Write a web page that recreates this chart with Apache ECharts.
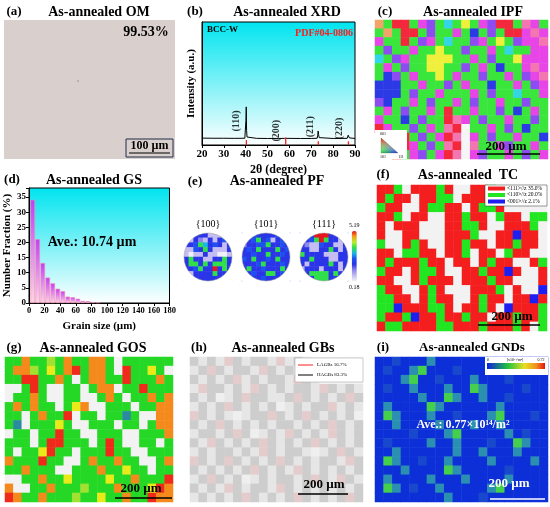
<!DOCTYPE html>
<html><head><meta charset="utf-8">
<script src="https://cdn.jsdelivr.net/npm/echarts@6/dist/echarts.min.js"></script>
<style>html,body{margin:0;padding:0;background:#fff}#c{width:550px;height:507px}</style>
</head><body><div id="c"></div>
<script>
const F = "'Liberation Serif','Times New Roman',serif";
// ---------- (b) XRD ----------
const xrdTheta = [20,25,30,35,39.6,39.9,40.1,40.25,40.4,40.6,40.9,45,50,55,57.9,58.1,58.3,58.5,58.8,65,70,72.7,72.95,73.15,73.35,73.6,74,80,86.4,86.7,86.9,87.1,87.4,88,90];
const xrdIntensity = [5.6,5.5,5.5,5.4,5.5,6.5,20,31,12,6.5,5.6,5.4,5.3,5.3,5.4,6,6.9,6,5.4,5.3,5.3,5.5,8,11.4,8.5,6,5.4,5.3,5.4,6.5,8,7.5,5.8,5.3,5.3];
const pdfTheta = [40.3,58.3,73.2,87.0];
const pdfHeight = [4,6,3,3];
const peakLabels = ['(110)','(200)','(211)','(220)'];
const peakLabelTheta = [35.9,54.2,69.4,82.8];
const peakLabelY = [19.5,11.6,14.9,13.5];
// ---------- (d) GS ----------
const gsSize = [4.7,11.1,17.6,24.0,30.4,36.9,43.3,49.7,56.1,62.6,69.0,75.4,81.9,88.3];
const gsFraction = [34.1,21.1,13.2,8.4,6.5,4.7,3.9,2.1,1.9,1.4,0.7,0.6,0.3,0.2];
// ---------- maps (coarse colour-code grids) ----------
const ipfRows = [
"OGRRGMPGCGYGMPRRGKMG",
"GOGRRGPGGMGBGPGRRMKM",
"MGGRGPMGCGGPMGYGPMMK",
"GPGGMGGYGGPGGMGCGGMM",
"CGPMGGYYYGGMGPGGYMMM",
"GMGPGGYYGGPGMGBGGMKM",
"GBPGMGGYGMGGPGGMGPMK",
"BBBGGMGGPGMGGBGGMGPM",
"BBBGPGGMGGGMGPGGCGGM",
"PBGGMGPGGMGPGGMGGPGG",
"GMGPGGMGRGGMGGPGBGMG",
"MGGBGPGGRKMGPGGMGGPG",
"RMGGPGMGKRWGGMGPGBGG",
"WWMRGPGMRKWMGPGGMGGB",
"WWGRMGPGKRWKGGMPGGMG",
"WWRGMPGMRKWMPGGMGPGM"];
const tcRows = [
"RRGWRRRGRWWRRGWWWWWW",
"RGRRWRRGGWRRRGWWWWWW",
"GRRWWRGGRRWRGGRWWWWW",
"RRGWRRWWRRGRRWGRRWGG",
"RWRRRWWWRRGGRWWRRRGW",
"RWWRRWWWRRRGWWRRBRRW",
"GWWRGRWWRRGRRWRRGRRW",
"RRWGGRRWRRGWRRWGRRWW",
"RGRRRGRRWRRWRGRRWWRG",
"GRRWRGGRWWRRGRRBRWWR",
"RRWWRGRRRWRRRGRRWWWR",
"GRRWWRGRWWWRRRGWRWWB",
"GGRRWRGRRWWRGRRWRRBR",
"GGBRRRGGRWRRGRWBRRRG",
"GRRGBRRGRRGRRWRRGRRG",
"RGGRRRRGGRRRGRRRGRWG"];
const gosRows = [
"GGOGGLGOGGOOGWGGGGGG",
"GOOLGYGORGOOGWRGGYGW",
"GGRRGGOGWGOOGGRGGGOG",
"WWGRGWWGGWGOOWGGRGGG",
"WGGOGWWGGWWGOGWGGOGO",
"GOGOGGWGYOWWGGGWGGOO",
"GGWGOGGRWGGWGGBGWWOO",
"GBWGGGYGWWGGGWGGWGOO",
"WGGWGGRGGWWGGGWWGGGO",
"GGGWGRRGGGWGRGWWGGWG",
"GWGGYRGGWGGGRGGWWGGG",
"OGGGRGGWWGOGGOGGWWGO",
"GGOGGGWWGGGOGGYGGWGG",
"WWGGOGGYGGGGYGGOGGGR",
"OWWGGOGGGLGGGOGGGYRO",
"ROGGOGGGLGGYGGOGGROO"];
const gbRows = [
"DADAPDADDAPADAWWWWWW",
"ADPDADDAPDADADWWWWWW",
"DADADPADADDAPDAWWWWW",
"APDDADAPDADADDAPDADA",
"DADLADPDDAADPDADADPD",
"ADADPDADADLADADDPADA",
"PDADALADDPDADPDADADL",
"DADPDADADADDADADPDAD",
"ADDADPDLADAPDADAPDAD",
"DAPDADADPDADADPDADAD",
"ADADDADAPDADDALADPDA",
"PDADPDADADPDADADDAPD",
"DADADADPDADAPDADADAD",
"ADPDADLADADDADPDAPDA",
"DADAPDADDAPDADADADAD",
"ADADADPDADADPDADADPD"];
const gndRows = [
"BBDBBBTBBBBBBWWWWWWW",
"BDBBTGBBBDBBBWWWWWWW",
"BBBTGBBDBBBTBBBDBBBB",
"BDBBTBBBTBBGTBBBBDBB",
"BBBBBTBBGTBBTBBDBBBB",
"BTBBBBGTBBBBBBTBBBBB",
"BGTBBBTBBDBBBTGBBBDB",
"BBTBBBBTBBBTBBTBBBBB",
"BBBBDBBBTGBBBBBTBDBB",
"BDBBBBTBBTBBBDBBGTBB",
"BBTBBBBBBTBBTBBBTBBB",
"BGTBBDBBTBBBBTBBBBTB",
"BBBTBBBBGTBBBBBDBBBB",
"BTBBBBTBBBTBBBBTBBBB",
"BGTBDBBTBBBBBTGBBBBB",
"BBBBBBBBTBBBDBBBBBBB"];
// pole figures: intensity level 0..9
const pf100 = ["1133311100","1132131341","3346534313","1143631113","1011311001","3633113363","3663636663","3346339363","3133336331","1133333311"];
const pf101 = ["3343333433","3346341343","2334463343","3436333634","3343363343","4363343633","3334633343","3633433363","3343366343","3333433333"];
const pf111 = ["3339993333","3346963313","3211433113","3311336313","6333311133","3363331133","3133336313","1333133313","3366663633","3336663333"];
const pfNames = ['{100}','{101}','{111}'];

// ---------- styles ----------
const ipfPal = {G:'#3ae63c',R:'#f3283c',B:'#2c3ae6',M:'#e845e6',P:'#8c4cf2',Y:'#eef03c',C:'#35d6e3',O:'#f3a46a',L:'#a0f25a',K:'#f376b0',W:'#f5f5f5'};
const tcPal = {R:'#f41e1e',G:'#22e622',B:'#1e1ef0',W:'#f2f2f2'};
const gosPal = {G:'#26d826',O:'#f48a1c',Y:'#eaea1a',R:'#f02a1a',W:'#f2f2f2',L:'#a2e032',B:'#2a8aa0'};
const gbPal = {A:'#e6e6e6',D:'#cdcdcd',P:'#e4cccc',L:'#efefef',W:'#f4f4f4'};
const gndPal = {B:'#0c2fd8',D:'#1848cc',G:'#44d04c',T:'#2a8fb0',W:'#1030d8'};
const pfColors = ['#f0eefc','#c4bcf2','#8a86ee','#2b35e8','#1e50f0','#19b8e8','#2fe04a','#b8ee2a','#f6a01a','#e8141e'];

function heat(rows, pal) {
  const keys = Object.keys(pal), d = [];
  rows.forEach((r, y) => { for (let x = 0; x < r.length; x++) d.push([x, y, keys.indexOf(r[x])]); });
  return d;
}
function pieces(pal) { return Object.keys(pal).map((k, i) => ({value: i, color: pal[k]})); }
function pfHeat(rows) {
  const d = [];
  rows.forEach((r, y) => { for (let x = 0; x < r.length; x++) d.push([x, y, +r[x]]); });
  return d;
}
const cyanGrad = {type:'linear',x:0,y:0,x2:0,y2:1,colorStops:[{offset:0,color:'#00e4ef'},{offset:1,color:'#ffffff'}]};
const idx = n => Array.from({length:n}, (_, i) => i);

const mapGrids = [
  {left:375, top:20, width:173, height:139},
  {left:377, top:185, width:170, height:146},
  {left:5, top:357, width:168, height:145},
  {left:190, top:357, width:173, height:145},
  {left:375, top:357, width:173, height:145},
  {left:184, top:233, width:48, height:48},
  {left:242, top:233, width:48, height:48},
  {left:300, top:233, width:48, height:48}
];
const grids = [
  {left:202, top:22, width:153, height:123, show:true, borderColor:'#000', borderWidth:1, backgroundColor:cyanGrad},
  {left:29, top:188, width:140.5, height:115, show:true, borderColor:'#000', borderWidth:1, backgroundColor:cyanGrad}
].concat(mapGrids);

const bold = (s) => ({fontFamily:F, fontWeight:'bold', fontSize:s, color:'#000'});
const xAxes = [
  {gridIndex:0, type:'value', min:20, max:90, interval:10, axisLine:{lineStyle:{color:'#000'}}, axisTick:{length:3, lineStyle:{color:'#000'}}, splitLine:{show:false},
   axisLabel:Object.assign(bold(11), {margin:4}), name:'2θ (degree)', nameLocation:'middle', nameGap:19, nameTextStyle:bold(12)},
  {gridIndex:1, type:'value', min:0, max:180, interval:20, axisLine:{lineStyle:{color:'#000'}}, axisTick:{length:3, lineStyle:{color:'#000'}}, splitLine:{show:false},
   axisLabel:Object.assign(bold(8.5), {margin:3}), name:'Grain size (µm)', nameLocation:'middle', nameGap:18, nameTextStyle:bold(11)}
];
const yAxes = [
  {gridIndex:0, type:'value', min:0, max:100, axisLine:{show:true, lineStyle:{color:'#000'}}, axisTick:{show:false}, axisLabel:{show:false}, splitLine:{show:false},
   name:'Intensity (a.u.)', nameLocation:'middle', nameGap:5, nameTextStyle:bold(11)},
  {gridIndex:1, type:'value', min:0, max:38, interval:5, axisLine:{show:true, lineStyle:{color:'#000'}}, axisTick:{length:3, lineStyle:{color:'#000'}}, splitLine:{show:false},
   axisLabel:Object.assign(bold(9), {margin:3, formatter:v => (v % 5 === 0 ? v : '')}), name:'Number Fraction (%)', nameLocation:'middle', nameGap:14, nameTextStyle:bold(11)}
];
const gridSizes = [[20,16],[20,16],[20,16],[20,16],[20,16],[10,10],[10,10],[10,10]];
gridSizes.forEach((s, i) => {
  xAxes.push({gridIndex:i+2, type:'category', data:idx(s[0]), show:false});
  yAxes.push({gridIndex:i+2, type:'category', data:idx(s[1]), inverse:true, show:false});
});

const series = [
  {type:'line', xAxisIndex:0, yAxisIndex:0, data:xrdTheta.map((t, i) => [t, xrdIntensity[i]]), symbol:'none', lineStyle:{color:'#000', width:1}, z:3},
  {type:'bar', xAxisIndex:0, yAxisIndex:0, data:pdfTheta.map((t, i) => [t, pdfHeight[i]]), barWidth:1.3, itemStyle:{color:'#ff2020'}, z:4},
  {type:'scatter', xAxisIndex:0, yAxisIndex:0, data:peakLabels.map((l, i) => [peakLabelTheta[i], peakLabelY[i], l]), symbolSize:0,
   label:{show:true, position:'inside', rotate:90, formatter:p => p.data[2], fontFamily:F, fontWeight:'bold', fontSize:10, color:'#000'}},
  {type:'bar', xAxisIndex:1, yAxisIndex:1, data:gsSize.map((s, i) => [s, gsFraction[i]]), barWidth:4.5,
   itemStyle:{color:{type:'linear',x:0,y:0,x2:0,y2:1,colorStops:[{offset:0,color:'#c63cf2'},{offset:1,color:'#ffd6e4'}]}, borderColor:'#f08cb4', borderWidth:0.6}}
];
const mapSets = [[ipfRows, ipfPal],[tcRows, tcPal],[gosRows, gosPal],[gbRows, gbPal],[gndRows, gndPal]];
const visualMaps = [];
mapSets.forEach((m, i) => {
  series.push({type:'heatmap', xAxisIndex:i+2, yAxisIndex:i+2, data:heat(m[0], m[1]), itemStyle:{borderWidth:0}, emphasis:{disabled:true}});
  visualMaps.push({type:'piecewise', show:false, dimension:2, seriesIndex:series.length-1, pieces:pieces(m[1])});
});
[pf100, pf101, pf111].forEach((p, i) => {
  series.push({type:'heatmap', xAxisIndex:i+7, yAxisIndex:i+7, data:pfHeat(p), itemStyle:{borderWidth:0}, emphasis:{disabled:true}});
});
visualMaps.push({type:'continuous', min:0, max:9, dimension:2, seriesIndex:[9,10,11], calculable:false, hoverLink:false, padding:0, z:150,
  orient:'vertical', left:349, top:222, itemWidth:5, itemHeight:50, text:['5.19','0.18'], textGap:3,
  textStyle:{fontSize:6, fontFamily:F, color:'#000'}, inRange:{color:pfColors}});

// ---------- decorations ----------
function txt(x, y, text, size, opt) {
  opt = opt || {};
  return {type:'text', x:x, y:y, z:opt.z || 100, style:{text:text, font:(opt.weight || 'bold') + ' ' + size + 'px ' + F, fill:opt.fill || '#000',
    textAlign:opt.align || 'center', align:opt.align || 'center', textVerticalAlign:'middle', verticalAlign:'middle'}};
}
function line(x1, y1, x2, y2, color, w) {
  return {type:'line', z:100, shape:{x1:x1, y1:y1, x2:x2, y2:y2}, style:{stroke:color, lineWidth:w}};
}
const G = [
  // panel (a)
  {type:'rect', z:1, shape:{x:4, y:20, width:171, height:139}, style:{fill:'#d9d0cd'}},
  {type:'circle', z:2, shape:{cx:78, cy:81, r:1}, style:{fill:'#b2a8a8'}},
  txt(146, 32, '99.53%', 14),
  {type:'rect', z:3, shape:{x:126, y:139, width:47, height:18}, style:{fill:'#d9d0cd', stroke:'#1e2c48', lineWidth:1}},
  txt(149.5, 146, '100 µm', 12),
  line(129, 153, 170, 153, '#000', 1),
  // titles
  txt(14, 12, '(a)', 13), txt(99, 12, 'As-annealed OM', 14),
  txt(195, 12, '(b)', 13), txt(287, 12, 'As-annealed XRD', 14),
  txt(385, 12, '(c)', 13), txt(473, 12, 'As-annealed IPF', 14),
  txt(12, 180, '(d)', 13), txt(94, 180, 'As-annealed GS', 14),
  txt(195, 182, '(e)', 13), txt(277, 181, 'As-annealed PF', 14),
  txt(383, 175, '(f)', 13), txt(468, 175, 'As-annealed  TC', 14),
  txt(14, 348, '(g)', 13), txt(93, 348, 'As-annealed GOS', 14),
  txt(199, 348, '(h)', 13), txt(283, 348, 'As-annealed GBs', 14),
  txt(383, 348, '(i)', 13), txt(472, 348, 'As-annealed GNDs', 13),
  // XRD notes
  txt(207, 30, 'BCC-W', 9, {align:'left'}),
  txt(324, 33, 'PDF#04-0806', 10, {fill:'#ff1a1a'}),
  // GS note
  txt(92, 242, 'Ave.: 10.74 µm', 14),
  // IPF legend & scale bar
  {type:'rect', z:100, shape:{x:375, y:130, width:32, height:29}, style:{fill:'#fff'}},
  {type:'polygon', z:101, shape:{points:[[381,138],[381,153],[398,153]]}, style:{fill:{type:'linear',x:0,y:0,x2:1,y2:0,colorStops:[{offset:0,color:'#20e020'},{offset:1,color:'#2020f0'}]}}},
  {type:'polygon', z:102, shape:{points:[[381,138],[381,153],[398,153]]}, style:{fill:{type:'linear',x:0,y:0,x2:0,y2:1,colorStops:[{offset:0,color:'rgba(255,20,20,1)'},{offset:0.8,color:'rgba(255,255,255,0.3)'},{offset:1,color:'rgba(255,255,255,0)'}]}, stroke:'#666', lineWidth:0.3}},
  txt(383, 134, '001', 4, {weight:'normal'}), txt(383, 157, '101', 4, {weight:'normal'}), txt(401, 157, '111', 4, {weight:'normal'}),
  txt(506, 147, '200 µm', 13), line(477, 154, 540, 154, '#000', 1.5),
  // TC legend & scale bar
  {type:'rect', z:100, shape:{x:485, y:185, width:62, height:21}, style:{fill:'#fff', stroke:'#333', lineWidth:0.5}},
  {type:'rect', z:101, shape:{x:488, y:186.5, width:17, height:4}, style:{fill:'#f41e1e'}},
  {type:'rect', z:101, shape:{x:488, y:193, width:17, height:4}, style:{fill:'#22e622'}},
  {type:'rect', z:101, shape:{x:488, y:199.5, width:17, height:4}, style:{fill:'#1e1ef0'}},
  txt(507, 188.5, '<111>//z 35.0%', 5.5, {align:'left', weight:'normal'}),
  txt(507, 195, '<110>//z 20.0%', 5.5, {align:'left', weight:'normal'}),
  txt(507, 201.5, '<001>//z 2.1%', 5.5, {align:'left', weight:'normal'}),
  txt(512, 317, '200 µm', 13), line(478, 325, 540, 325, '#000', 1.5),
  // GOS scale bar
  txt(141, 489, '200 µm', 13), line(115, 498, 172, 498, '#000', 1.5),
  // GB legend & scale bar
  {type:'rect', z:100, shape:{x:295, y:358, width:68, height:24}, style:{fill:'#fff', stroke:'#999', lineWidth:0.5}},
  line(298, 365, 313, 365, '#ff2020', 1), line(298, 375, 313, 375, '#000', 1),
  txt(317, 365, 'LAGBs 16.7%', 5, {align:'left', weight:'normal'}),
  txt(317, 375, 'HAGBs 83.3%', 5, {align:'left', weight:'normal'}),
  txt(324, 485, '200 µm', 13), line(298, 494, 348, 494, '#000', 1.5),
  // GND legend, text & scale bar
  {type:'rect', z:100, shape:{x:485, y:357, width:63, height:18}, style:{fill:'#fff'}},
  {type:'rect', z:101, shape:{x:487, y:363, width:58, height:6}, style:{fill:{type:'linear',x:0,y:0,x2:1,y2:0,colorStops:[{offset:0,color:'#1020e0'},{offset:0.35,color:'#20c040'},{offset:0.65,color:'#e8e020'},{offset:0.85,color:'#f09020'},{offset:1,color:'#e81010'}]}}},
  txt(488, 360, '0', 4, {weight:'normal'}), txt(515, 360, '[x10¹⁴/m²]', 4, {weight:'normal'}), txt(541, 360, '0.72', 4, {weight:'normal'}),
  txt(463, 425, 'Ave.: 0.77×10¹⁴/m²', 12, {fill:'#fff'}),
  txt(509, 484, '200 µm', 13, {fill:'#fff'}), line(490, 499, 545, 499, '#fff', 1.5)
];
// PF masks, outlines and labels
[208, 266, 324].forEach((cx, i) => {
  G.push({type:'ring', z:100, shape:{cx:cx, cy:257, r:34, r0:24}, style:{fill:'#fff'}});
  G.push({type:'circle', z:101, shape:{cx:cx, cy:257, r:24}, style:{fill:'none', stroke:'#999', lineWidth:0.5}});
  G.push(txt(cx, 224, pfNames[i], 10, {weight:'normal', z:102}));
});

const chart = echarts.init(document.getElementById('c'));
chart.setOption({animation:false, backgroundColor:'#fff', grid:grids, xAxis:xAxes, yAxis:yAxes, visualMap:visualMaps, series:series, graphic:{elements:G}});
</script></body></html>
